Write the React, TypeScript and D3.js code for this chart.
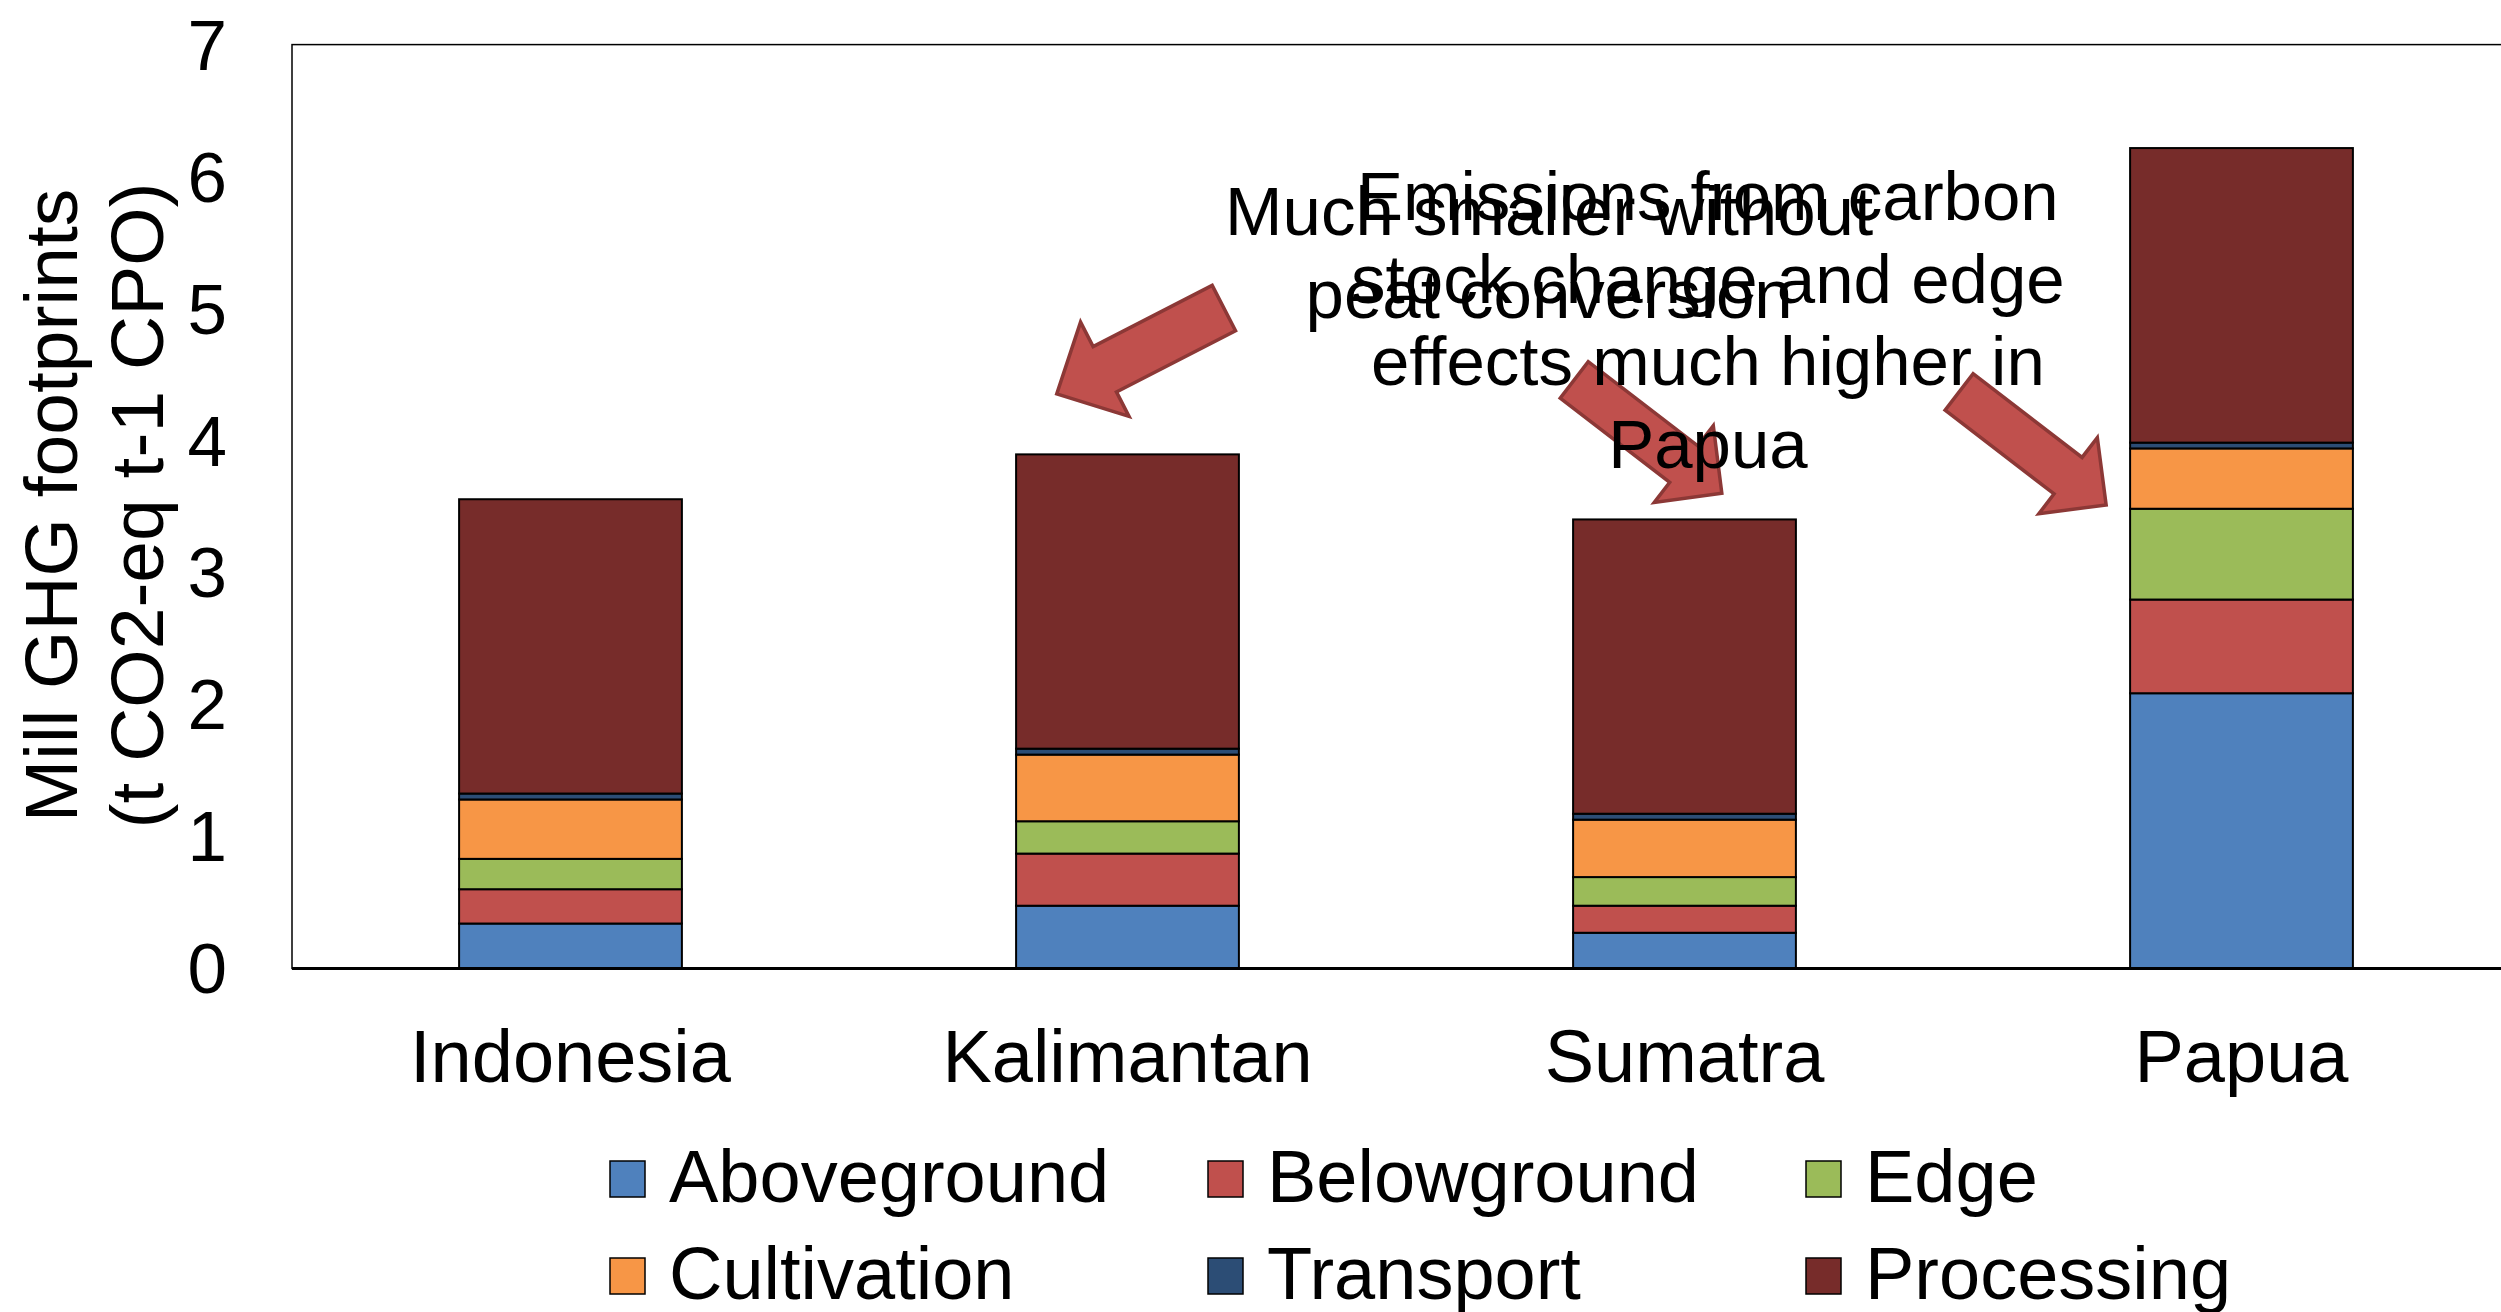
import React from 'react';
import * as d3 from 'd3';

// ---- data ----
const categories = ['Indonesia', 'Kalimantan', 'Sumatra', 'Papua'];
const seriesNames = ['Aboveground', 'Belowground', 'Edge', 'Cultivation', 'Transport', 'Processing'];
const aboveground = [0.34, 0.475, 0.27, 2.085];
const belowground = [0.26, 0.395, 0.205, 0.71];
const edge = [0.23, 0.245, 0.217, 0.688];
const cultivation = [0.45, 0.505, 0.435, 0.457];
const transport = [0.045, 0.045, 0.045, 0.044];
const processing = [2.23, 2.23, 2.23, 2.232];
const yTicks = [0, 1, 2, 3, 4, 5, 6, 7];
const yTitleLines = ['Mill GHG footprints', '(t CO2-eq t-1 CPO)'];
const note1Lines = ['Much smaller without', 'peat conversion'];
const note2Lines = ['Emissions from carbon', 'stock change and edge', 'effects much higher in', 'Papua'];
// annotation anchors in data space: [category index position, value]
const note1Anchor = [2.257, 5.557];
const note2Anchor = [2.542, 5.671];
const arrowTails = [[1.673, 5.004], [2.302, 4.459], [2.993, 4.368]];
const arrowTips = [[1.373, 4.353], [2.567, 3.6], [3.257, 3.512]];

// ---- style ----
const seriesColors = ['#4F81BD', '#C0504D', '#9BBB59', '#F79646', '#2C4D75', '#772C2A'];
const arrowShaft = [51, 46, 46];
const arrowHead = [106, 97, 96];
const arrowHeadLen = [54, 48, 48];
const FONT = "'Liberation Sans', Arial, Helvetica, sans-serif";
const W = 2501;
const H = 1312;
const PL = 292;
const PR = 2520;
const PT = 44.6;
const PB = 968.4;

export default function App() {
  const seriesValues = [aboveground, belowground, edge, cultivation, transport, processing];
  const rows = categories.map((c, i) => {
    const r: any = { category: c };
    seriesNames.forEach((s, k) => (r[s] = seriesValues[k][i]));
    return r;
  });
  const stacked = d3.stack().keys(seriesNames)(rows);

  const x = d3.scaleBand().domain(categories).range([PL, PR]).paddingInner(0.6).paddingOuter(0.3);
  const xi = d3.scaleLinear().domain([0, 4]).range([PL, PR]);
  const y = d3.scaleLinear().domain([0, 7]).range([PB, PT]);

  const arrowPath = (k: number) => {
    const [tx0, ty0] = arrowTails[k];
    const [px0, py0] = arrowTips[k];
    const t = [xi(tx0), y(ty0)];
    const p = [xi(px0), y(py0)];
    const dx = p[0] - t[0];
    const dy = p[1] - t[1];
    const L = Math.hypot(dx, dy);
    const u = [dx / L, dy / L];
    const n = [-u[1], u[0]];
    const s = arrowShaft[k] / 2;
    const h = arrowHead[k] / 2;
    const b = [p[0] - u[0] * arrowHeadLen[k], p[1] - u[1] * arrowHeadLen[k]];
    const pts = [
      [t[0] + n[0] * s, t[1] + n[1] * s],
      [b[0] + n[0] * s, b[1] + n[1] * s],
      [b[0] + n[0] * h, b[1] + n[1] * h],
      p,
      [b[0] - n[0] * h, b[1] - n[1] * h],
      [b[0] - n[0] * s, b[1] - n[1] * s],
      [t[0] - n[0] * s, t[1] - n[1] * s],
    ];
    return d3.line()(pts as [number, number][]) + 'Z';
  };

  const legendCols = [610, 1208, 1806];
  const legendRows = [1202, 1299];

  return (
    <svg
      width={W}
      height={H}
      style={{ position: 'absolute', left: 0, top: 0, background: '#fff' }}
      fontFamily={FONT}
    >
      <rect x={0} y={0} width={W} height={H} fill="#fff" />
      {/* plot area border */}
      <rect x={PL} y={PT} width={PR - PL} height={PB - PT} fill="none" stroke="#000" strokeWidth={1.5} />

      {/* bars */}
      {stacked.map((layer, k) => (
        <g key={layer.key} fill={seriesColors[k]}>
          {layer.map((d, i) => (
            <rect
              key={i}
              x={x(categories[i])}
              width={x.bandwidth()}
              y={y(d[1])}
              height={y(d[0]) - y(d[1])}
              stroke="#000"
              strokeWidth={2}
            />
          ))}
        </g>
      ))}

      {/* baseline */}
      <line x1={PL} x2={PR} y1={y(0)} y2={y(0)} stroke="#000" strokeWidth={3} />

      {/* y ticks */}
      {yTicks.map((t) => (
        <text key={t} x={227} y={y(t) + 25} fontSize={71} textAnchor="end" fill="#000">
          {t}
        </text>
      ))}

      {/* y title */}
      {yTitleLines.map((l, i) => (
        <text
          key={i}
          transform={`translate(${76.5 + i * 86},${(PT + PB) / 2 - 1}) rotate(-90)`}
          fontSize={75}
          textAnchor="middle"
          fill="#000"
        >
          {l}
        </text>
      ))}

      {/* category labels */}
      {categories.map((c) => (
        <text key={c} x={(x(c) as number) + x.bandwidth() / 2} y={1082} fontSize={74} textAnchor="middle" fill="#000">
          {c}
        </text>
      ))}

      {/* arrows */}
      {arrowTails.map((_, k) => (
        <path key={k} d={arrowPath(k)} fill="#C0504D" stroke="#8C3836" strokeWidth={3.5} strokeLinejoin="miter" />
      ))}

      {/* annotations */}
      <text fontSize={69} textAnchor="middle" fill="#000">
        {note1Lines.map((l, i) => (
          <tspan key={i} x={xi(note1Anchor[0])} y={y(note1Anchor[1]) + i * 83}>
            {l}
          </tspan>
        ))}
      </text>
      <text fontSize={69} textAnchor="middle" fill="#000">
        {note2Lines.map((l, i) => (
          <tspan key={i} x={xi(note2Anchor[0])} y={y(note2Anchor[1]) + i * 82.7}>
            {l}
          </tspan>
        ))}
      </text>

      {/* legend */}
      {seriesNames.map((s, k) => {
        const col = k % 3;
        const row = Math.floor(k / 3);
        const lx = legendCols[col];
        const ly = legendRows[row];
        return (
          <g key={s}>
            <rect x={lx} y={ly - 41} width={35} height={36} fill={seriesColors[k]} stroke="#000" strokeWidth={1.5} />
            <text x={lx + 59} y={ly} fontSize={74} fill="#000">
              {s}
            </text>
          </g>
        );
      })}
    </svg>
  );
}
